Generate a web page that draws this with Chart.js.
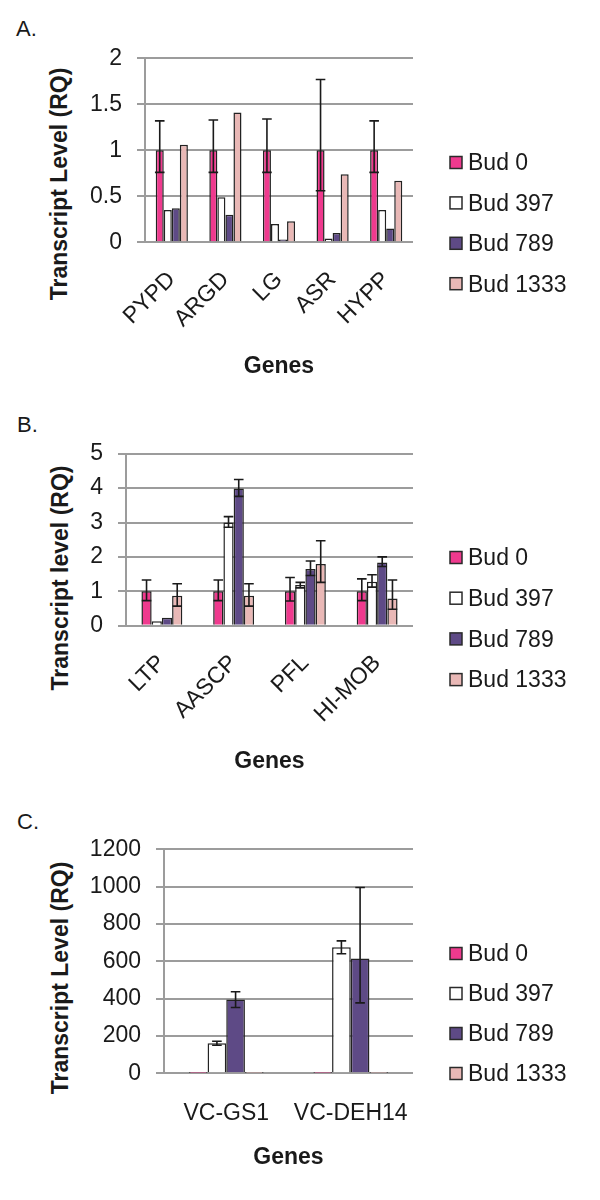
<!DOCTYPE html>
<html><head><meta charset="utf-8">
<script src="https://cdn.jsdelivr.net/npm/chart.js@4.4.1/dist/chart.umd.min.js"></script>
<style>
html,body{margin:0;padding:0;background:#fff;}
body{width:600px;height:1200px;position:relative;overflow:hidden;font-family:"Liberation Sans",Arial,sans-serif;color:#1a1a1a;}
canvas{position:absolute;left:0;}
.letter{position:absolute;font-size:22px;line-height:1;}
.ytitle{position:absolute;font-weight:bold;font-size:23px;white-space:nowrap;line-height:1;transform:translate(-50%,-50%) rotate(-90deg);}
</style></head>
<body>
<div class="letter" style="left:16px;top:18px">A.</div>
<div class="letter" style="left:17px;top:414px">B.</div>
<div class="letter" style="left:17px;top:811px">C.</div>
<div class="ytitle" style="left:59px;top:184px">Transcript Level (RQ)</div>
<div class="ytitle" style="left:60px;top:578px">Transcript level (RQ)</div>
<div class="ytitle" style="left:60px;top:978px">Transcript Level (RQ)</div>
<canvas id="cA" width="600" height="400" style="top:0px"></canvas>
<canvas id="cB" width="600" height="400" style="top:400px"></canvas>
<canvas id="cC" width="600" height="400" style="top:800px"></canvas>
<script>
// ---------- DATA ----------
const seriesNames = ['Bud 0', 'Bud 397', 'Bud 789', 'Bud 1333'];

// Panel A
const genesA = ['PYPD', 'ARGD', 'LG', 'ASR', 'HYPP'];
const a_bud0 = [1, 1, 1, 1, 1];
const a_bud0Hi = [1.32, 1.33, 1.34, 1.77, 1.32];
const a_bud0Lo = [0.76, 0.76, 0.76, 0.56, 0.76];
const a_bud397 = [0.35, 0.49, 0.20, 0.04, 0.35];
const a_bud789 = [0.37, 0.30, 0.03, 0.10, 0.15];
const a_bud1333 = [1.06, 1.41, 0.23, 0.74, 0.67];
const yTicksA = [0, 0.5, 1, 1.5, 2];

// Panel B
const genesB = ['LTP', 'AASCP', 'PFL', 'HI-MOB'];
const b_bud0 = [1, 1, 1, 1];
const b_bud0Hi = [1.33, 1.33, 1.40, 1.36];
const b_bud0Lo = [0.73, 0.73, 0.72, 0.73];
const b_bud397 = [0.13, 3.00, 1.18, 1.28];
const b_bud397Hi = [null, 3.17, 1.26, 1.48];
const b_bud397Lo = [null, 2.86, 1.10, 1.12];
const b_bud789 = [0.23, 3.99, 1.65, 1.84];
const b_bud789Hi = [null, 4.25, 1.88, 2.00];
const b_bud789Lo = [null, 3.76, 1.46, 1.72];
const b_bud1333 = [0.87, 0.87, 1.79, 0.79];
const b_bud1333Hi = [1.22, 1.22, 2.47, 1.33];
const b_bud1333Lo = [0.57, 0.57, 1.26, 0.48];
const yTicksB = [0, 1, 2, 3, 4, 5];

// Panel C
const genesC = ['VC-GS1', 'VC-DEH14'];
const c_bud0 = [1, 1];
const c_bud397 = [161, 675];
const c_bud397Hi = [172, 709];
const c_bud397Lo = [150, 640];
const c_bud789 = [395, 615];
const c_bud789Hi = [437, 995];
const c_bud789Lo = [352, 377];
const c_bud1333 = [1, 1];
const yTicksC = [0, 200, 400, 600, 800, 1000, 1200];

// ---------- STYLE ----------
const FAM = '"Liberation Sans", Arial, sans-serif';
const COLORS = ['#EF3A8E', '#FFFFFF', '#5E4A86', '#E9B8B6'];
const TEXT = '#1a1a1a';
const GRID = '#9c9c9c';

const errorBarPlugin = {
  id: 'errorBars',
  afterDatasetsDraw(chart) {
    const ctx = chart.ctx, y = chart.scales.y;
    ctx.save();
    ctx.strokeStyle = '#1a1a1a';
    ctx.lineWidth = 1.6;
    chart.data.datasets.forEach((ds, i) => {
      if (!ds.errHi) return;
      const meta = chart.getDatasetMeta(i);
      meta.data.forEach((el, j) => {
        const hi = ds.errHi[j], lo = ds.errLo[j];
        if (hi == null) return;
        const yh = y.getPixelForValue(hi), yl = y.getPixelForValue(lo);
        const x = el.x, cw = 4.8;
        ctx.beginPath();
        ctx.moveTo(x, yh); ctx.lineTo(x, yl);
        ctx.moveTo(x - cw, yh); ctx.lineTo(x + cw, yh);
        ctx.moveTo(x - cw, yl); ctx.lineTo(x + cw, yl);
        ctx.stroke();
      });
    });
    ctx.restore();
  }
};

const sideLegendPlugin = {
  id: 'sideLegend',
  afterDraw(chart, args, opts) {
    const ctx = chart.ctx;
    ctx.save();
    chart.data.datasets.forEach((ds, i) => {
      const cy = opts.y0 + i * opts.step;
      ctx.fillStyle = ds.backgroundColor;
      ctx.fillRect(opts.x, cy - 6.5, 12, 12);
      ctx.strokeStyle = '#2a2a2a';
      ctx.lineWidth = 1.5;
      ctx.strokeRect(opts.x, cy - 6.5, 12, 12);
      ctx.fillStyle = TEXT;
      ctx.font = '23px ' + FAM;
      ctx.textBaseline = 'middle';
      ctx.textAlign = 'left';
      ctx.fillText(ds.label, opts.x + 18, cy + 1);
    });
    ctx.restore();
  }
};

function buildPanel(id, labels, series, yTicks, L) {
  const datasets = series.map((s, i) => ({
    label: seriesNames[i],
    data: s.data,
    errHi: s.hi || null,
    errLo: s.lo || null,
    backgroundColor: COLORS[i],
    borderColor: '#222222',
    borderWidth: 1.5,
    categoryPercentage: L.cat,
    barPercentage: 1.0
  }));
  const scaleBottom = L.genesY + 13.8;
  const padBottom = 400 - scaleBottom;
  const xHeight = scaleBottom - L.bottom;
  new Chart(document.getElementById(id), {
    type: 'bar',
    data: { labels: labels, datasets: datasets },
    options: {
      responsive: false,
      animation: false,
      devicePixelRatio: 1,
      layout: { padding: { left: 0, right: 600 - L.right, top: L.top, bottom: padBottom } },
      plugins: {
        legend: { display: false },
        tooltip: { enabled: false },
        sideLegend: { x: 450, y0: L.legY0, step: L.legStep }
      },
      scales: {
        x: {
          grid: { display: false },
          border: { display: false },
          ticks: {
            font: { size: 23, family: FAM }, color: TEXT,
            minRotation: L.rot, maxRotation: L.rot, autoSkip: false, padding: L.xPad
          },
          title: { display: true, text: 'Genes', color: TEXT, padding: 0,
                   font: { size: 23, weight: 'bold', family: FAM } },
          afterFit(s) { s.height = xHeight; }
        },
        y: {
          min: yTicks[0], max: yTicks[yTicks.length - 1],
          afterBuildTicks(s) { s.ticks = yTicks.map(v => ({ value: v })); },
          ticks: { callback: v => String(v), padding: 15, color: TEXT,
                   font: { size: 23, family: FAM } },
          grid: { color: GRID, lineWidth: 2, tickLength: 8 },
          border: { color: GRID, width: 2 },
          afterFit(s) { s.width = L.left; }
        }
      }
    },
    plugins: [errorBarPlugin, sideLegendPlugin]
  });
}

buildPanel('cA', genesA, [
  { data: a_bud0, hi: a_bud0Hi, lo: a_bud0Lo },
  { data: a_bud397 },
  { data: a_bud789 },
  { data: a_bud1333 }
], yTicksA, { left: 145, right: 413, top: 58.3, bottom: 242.3, genesY: 366.7, cat: 0.6, rot: 45, xPad: 16, legY0: 163, legStep: 40.4 });

buildPanel('cB', genesB, [
  { data: b_bud0, hi: b_bud0Hi, lo: b_bud0Lo },
  { data: b_bud397, hi: b_bud397Hi, lo: b_bud397Lo },
  { data: b_bud789, hi: b_bud789Hi, lo: b_bud789Lo },
  { data: b_bud1333, hi: b_bud1333Hi, lo: b_bud1333Lo }
], yTicksB, { left: 126, right: 413, top: 53.7, bottom: 225.7, genesY: 361.7, cat: 0.57, rot: 45, xPad: 16, legY0: 158, legStep: 40.7 });

buildPanel('cC', genesC, [
  { data: c_bud0 },
  { data: c_bud397, hi: c_bud397Hi, lo: c_bud397Lo },
  { data: c_bud789, hi: c_bud789Hi, lo: c_bud789Lo },
  { data: c_bud1333 }
], yTicksC, { left: 164, right: 413, top: 49.2, bottom: 273.3, genesY: 358, cat: 0.6, rot: 0, xPad: 19, legY0: 154, legStep: 40 });
</script>
</body></html>
